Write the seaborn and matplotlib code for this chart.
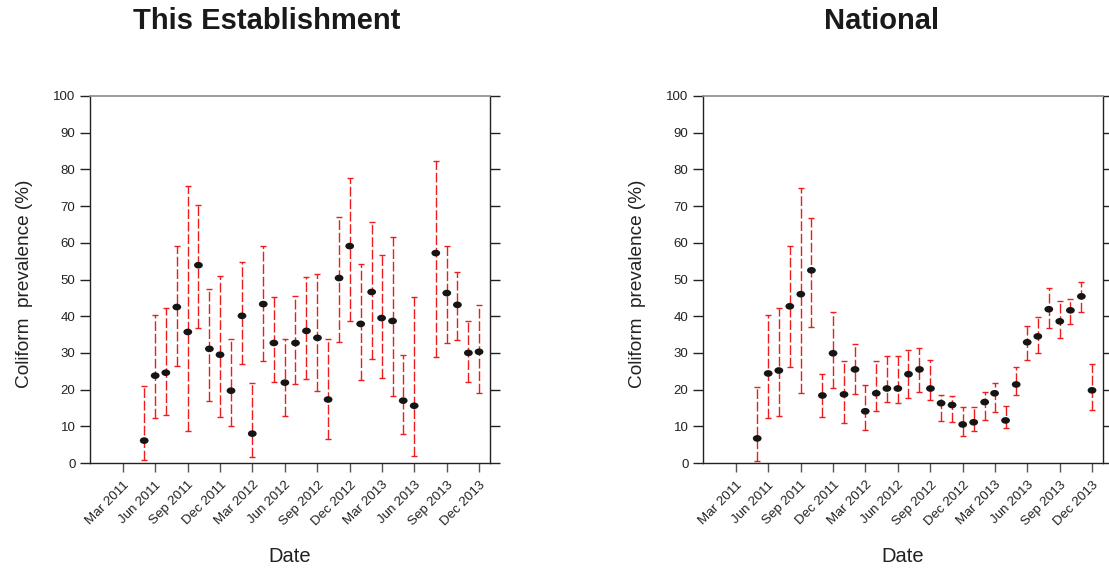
import numpy as np
import pandas as pd
import matplotlib
matplotlib.use("Agg")
import matplotlib.pyplot as plt
import matplotlib.dates as mdates
from matplotlib.path import Path
from matplotlib.transforms import Affine2D
import seaborn as sns

# Monthly sampling periods (first of each month)
months = pd.date_range("2011-05-01", "2013-12-01", freq="MS")

# This establishment: prevalence estimate with lower / upper interval bounds (%)
est_value = [6.1, 23.8, 24.6, 42.5, 35.7, 53.9, 31.1, 29.5, 19.7, 40.1, 8.0, 43.3,
             32.7, 21.9, 32.7, 36.0, 34.1, 17.3, 50.4, 59.1, 37.9, 46.6, 39.5, 38.7,
             17.0, 15.6, np.nan, 57.2, 46.3, 43.1, 30.0, 30.3]
est_lower = [0.8, 12.3, 13.1, 26.3, 8.6, 36.9, 17.0, 12.6, 10.0, 26.9, 1.7, 27.7,
             22.1, 12.9, 21.6, 22.9, 19.6, 6.6, 32.9, 38.8, 22.7, 28.4, 23.2, 18.2,
             8.0, 1.9, np.nan, 28.8, 32.7, 33.5, 22.0, 19.2]
est_upper = [20.9, 40.2, 42.1, 59.2, 75.5, 70.4, 47.5, 51.0, 33.7, 54.8, 21.9, 59.0,
             45.1, 33.7, 45.6, 50.8, 51.4, 33.7, 67.0, 77.6, 54.2, 65.6, 56.6, 61.6,
             29.3, 45.3, np.nan, 82.3, 59.2, 52.1, 38.7, 43.0]

# National: prevalence estimate with lower / upper interval bounds (%)
nat_value = [6.7, 24.4, 25.2, 42.7, 46.0, 52.5, 18.4, 29.9, 18.7, 25.5, 14.1, 19.0,
             20.3, 20.3, 24.2, 25.5, 20.3, 16.3, 15.8, 10.5, 11.1, 16.6, 19.0, 11.6,
             21.4, 32.9, 34.5, 41.9, 38.6, 41.6, 45.4, 19.8]
nat_lower = [0.6, 12.2, 12.9, 26.2, 19.1, 37.1, 12.4, 20.4, 11.0, 18.9, 9.0, 14.1,
             16.5, 16.3, 17.7, 19.4, 17.3, 11.4, 11.3, 7.3, 8.6, 11.7, 14.0, 9.5,
             18.4, 28.2, 30.1, 36.8, 34.1, 37.8, 41.2, 14.5]
nat_upper = [20.8, 40.2, 42.1, 59.2, 74.8, 66.8, 24.2, 41.2, 27.8, 32.3, 21.3, 27.8,
             29.1, 29.1, 30.8, 31.2, 28.2, 18.5, 18.2, 15.3, 15.3, 19.3, 21.8, 15.5,
             26.2, 37.2, 39.9, 47.7, 44.1, 44.7, 49.3, 27.1]

titles = ["This Establishment", "National"]
y_ticks = list(range(0, 101, 10))
x_ticks = pd.date_range("2011-03-01", "2013-12-01", freq="3MS")

sns.set_theme(style="ticks")
plt.rcParams["font.family"] = ["Liberation Sans", "DejaVu Sans"]

fig = plt.figure(figsize=(11.09, 5.72), dpi=100)
W, H = 1109, 572
ax_left_px = [90, 703]
ax_top, ax_bottom, ax_w = 96, 463, 400
title_x = [267, 882]

panels = [
    (est_value, est_lower, est_upper),
    (nat_value, nat_lower, nat_upper),
]

spine_dark = "#222222"
spine_light = "#8a8a8a"

# slightly flattened dot marker
dot = Path.unit_circle().transformed(Affine2D().scale(1.0, 0.76))

for i, (vals, lo, hi) in enumerate(panels):
    ax = fig.add_axes([ax_left_px[i] / W, 1 - ax_bottom / H, ax_w / W, (ax_bottom - ax_top) / H])
    df = pd.DataFrame({"date": months, "value": vals, "lower": lo, "upper": hi}).dropna()

    # dashed red interval bars with short caps
    eb = ax.errorbar(df["date"], df["value"],
                     yerr=[df["value"] - df["lower"], df["upper"] - df["value"]],
                     fmt="none", ecolor="#ee1c1c", elinewidth=1.0, capsize=2.5,
                     capthick=1.0, zorder=2)
    for lc in eb[2]:
        lc.set_linestyle((0, (7, 2)))

    sns.scatterplot(data=df, x="date", y="value", ax=ax, color="#151515",
                    marker=dot, s=40, edgecolor="none", zorder=3, legend=False)

    ax.set_xlim(pd.Timestamp("2010-11-29"), pd.Timestamp("2014-01-01"))
    ax.set_ylim(0, 100)
    ax.set_yticks(y_ticks)
    ax.set_xticks(x_ticks)
    ax.xaxis.set_major_formatter(mdates.DateFormatter("%b %Y"))
    ax.tick_params(axis="y", which="both", left=True, right=True, labelleft=True,
                   labelright=False, direction="out", length=7.5, width=1.0,
                   color=spine_dark, labelsize=9.5, labelcolor="#222222", pad=3)
    ax.tick_params(axis="x", direction="out", length=6.5, width=1.0,
                   color="#555555", labelsize=9.6, labelcolor="#222222", pad=5)
    for lab in ax.get_xticklabels():
        lab.set_rotation(45)
        lab.set_ha("right")
        lab.set_rotation_mode("anchor")

    for side in ["left", "right", "bottom"]:
        ax.spines[side].set_visible(True)
        ax.spines[side].set_color(spine_dark)
        ax.spines[side].set_linewidth(1.0)
    ax.spines["top"].set_visible(True)
    ax.spines["top"].set_color(spine_light)
    ax.spines["top"].set_linewidth(1.2)

    ax.set_ylabel("Coliform  prevalence (%)", fontsize=13.7, color="#222222")
    ax.yaxis.set_label_coords(-0.143, 0.487)
    ax.set_xlabel("Date", fontsize=14.5, color="#222222")
    ax.xaxis.set_label_coords(0.5, -0.228)
    ax.xaxis.label.set_va("top")
    ax.grid(False)

    fig.text(title_x[i] / W, 1 - 21 / H, titles[i], ha="center", va="center",
             fontsize=21, fontweight="bold", color="#1a1a1a")

fig.savefig("out.png", dpi=100)
